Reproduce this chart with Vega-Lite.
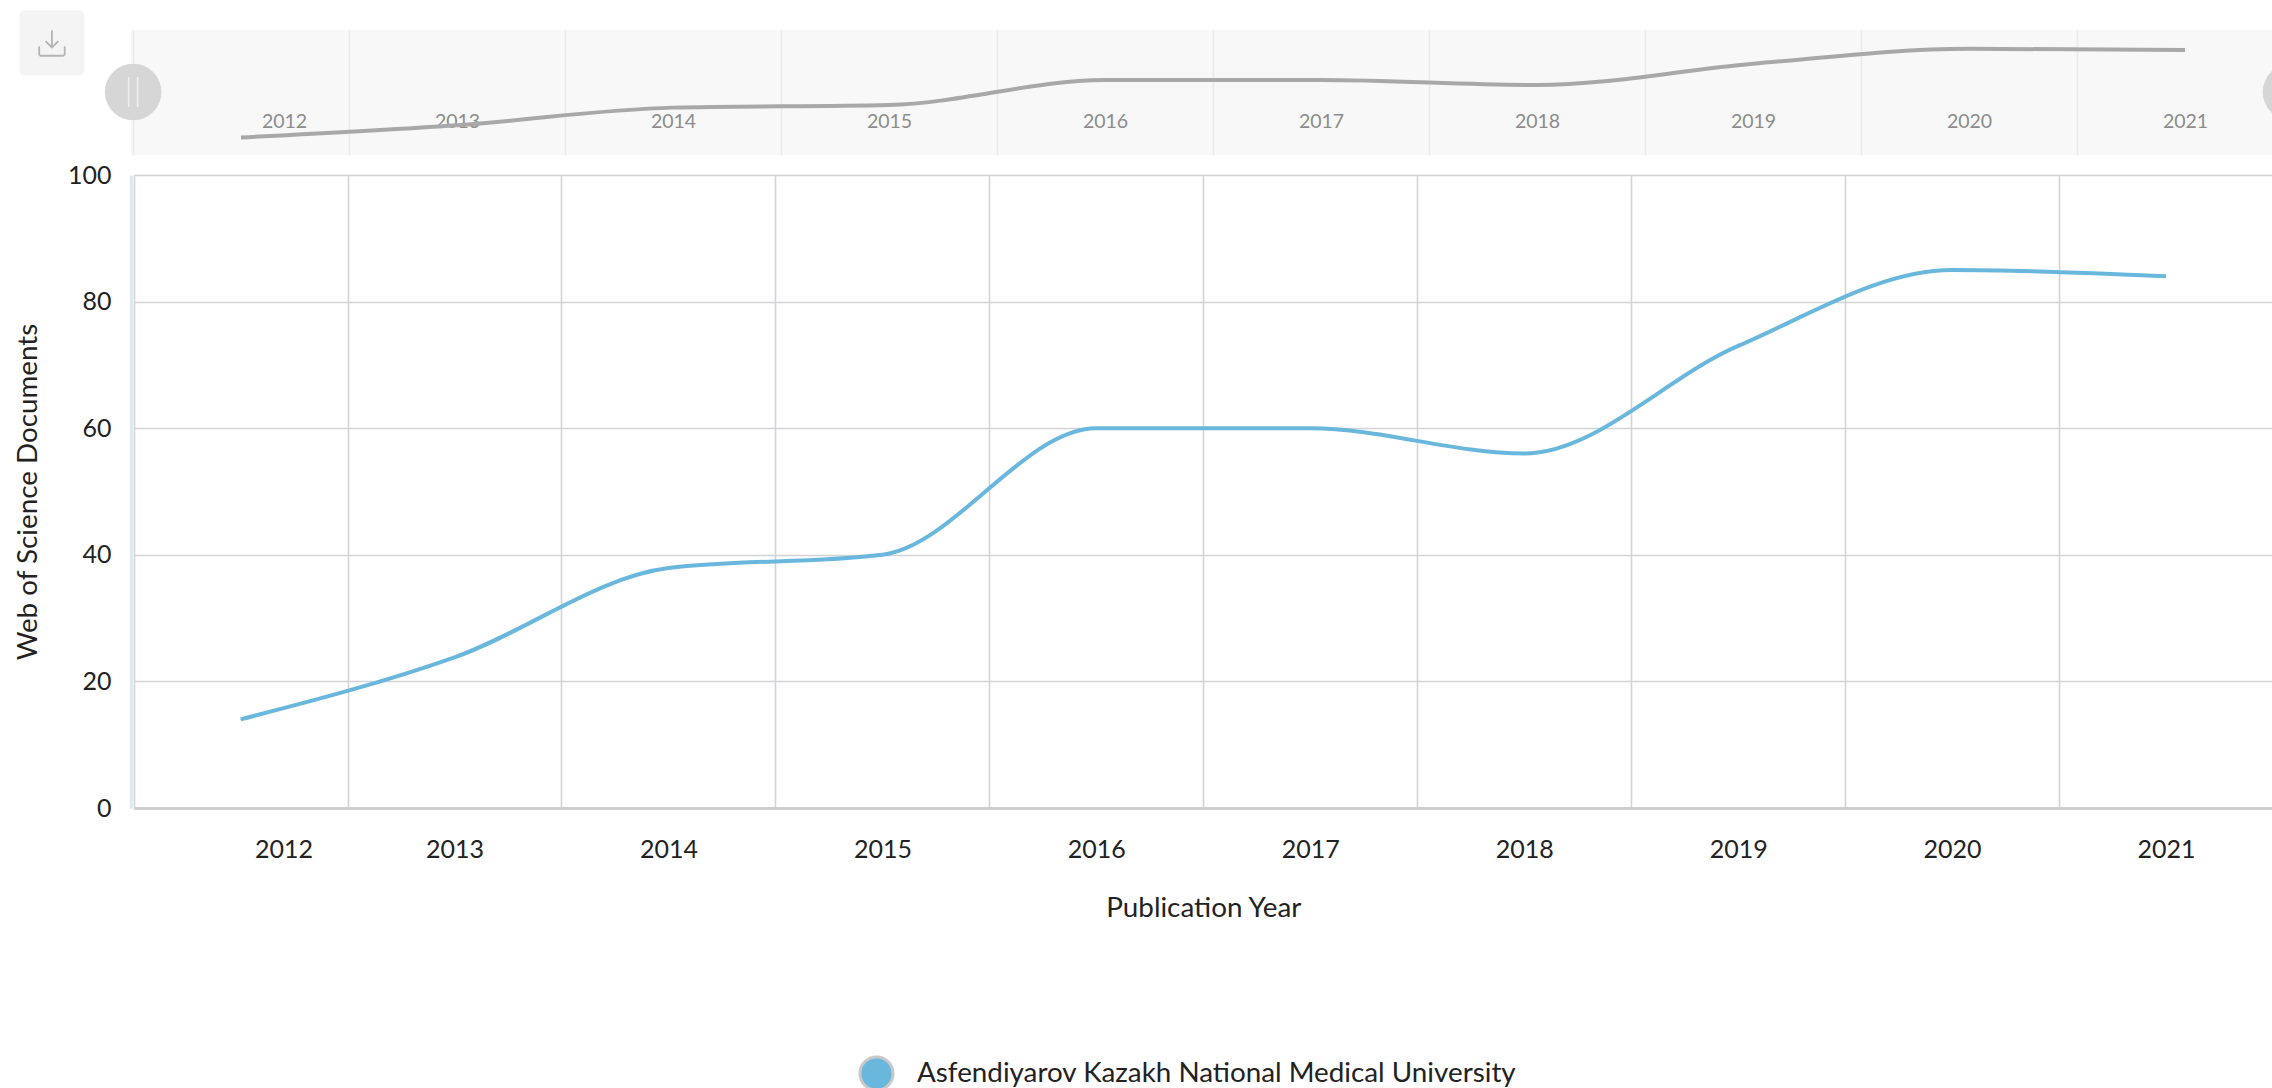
{
"$schema":"https://vega.github.io/schema/vega-lite/v6.json",
"background":"white",
"padding":{"left":14,"top":10,"right":0,"bottom":0},
"bounds":"flush",
"spacing":20,
"config":{"font":"Lato","view":{"stroke":null}},
"datasets":{
"docs":[
{"year":"2012","documents":14,"institution":"Asfendiyarov Kazakh National Medical University"},
{"year":"2013","documents":23.8,"institution":"Asfendiyarov Kazakh National Medical University"},
{"year":"2014","documents":37.9,"institution":"Asfendiyarov Kazakh National Medical University"},
{"year":"2015","documents":40,"institution":"Asfendiyarov Kazakh National Medical University"},
{"year":"2016","documents":60,"institution":"Asfendiyarov Kazakh National Medical University"},
{"year":"2017","documents":60,"institution":"Asfendiyarov Kazakh National Medical University"},
{"year":"2018","documents":56,"institution":"Asfendiyarov Kazakh National Medical University"},
{"year":"2019","documents":73,"institution":"Asfendiyarov Kazakh National Medical University"},
{"year":"2020","documents":85,"institution":"Asfendiyarov Kazakh National Medical University"},
{"year":"2021","documents":84,"institution":"Asfendiyarov Kazakh National Medical University"}
],
"handles":[{"pos":0.001,"level":50.4},{"pos":1,"level":50.4}],
"button":[{"pos":-0.0366,"level":89.6}]
},
"vconcat":[
{
"width":2160,"height":125,
"view":{"fill":"#f8f8f8","stroke":null},
"layer":[
{
"data":{"name":"docs"},
"mark":{"type":"line","interpolate":"monotone","color":"#a8a8a8","strokeWidth":4},
"encoding":{
"x":{"field":"year","type":"ordinal","scale":{"type":"band","paddingInner":0,"paddingOuter":0,"range":[2,2162]},
"axis":{"title":null,"orient":"bottom","tickBand":"extent","domain":false,"ticks":false,"grid":true,"gridColor":"#ebebeb","gridWidth":1.5,"labelAngle":0,"labelFontSize":19.5,"labelColor":"#8c8c8c","labelBaseline":"middle","labelPadding":-34,"labelOffset":{"condition":{"test":"datum.value == '2012'","value":43},"value":0}}},
"y":{"field":"documents","type":"quantitative","scale":{"domain":[0,100]},"axis":null}
}
},
{
"data":{"name":"handles"},
"mark":{"type":"point","shape":"circle","filled":true,"color":"#d6d6d6","size":3200,"opacity":1},
"encoding":{
"x":{"field":"pos","type":"quantitative","scale":{"domain":[0,1]},"axis":null},
"y":{"field":"level","type":"quantitative","scale":{"domain":[0,100]},"axis":null}
}
},
{
"data":{"name":"handles"},
"mark":{"type":"point","shape":"M-0.3,-1V1M0.3,-1V1","filled":false,"color":"#ececec","strokeWidth":1.6,"size":900,"opacity":1},
"encoding":{
"x":{"field":"pos","type":"quantitative","scale":{"domain":[0,1]},"axis":null},
"y":{"field":"level","type":"quantitative","scale":{"domain":[0,100]},"axis":null}
}
},
{
"data":{"name":"button"},
"mark":{"type":"point","shape":"M-0.85,-1H0.85Q1,-1 1,-0.85V0.85Q1,1 0.85,1H-0.85Q-1,1 -1,0.85V-0.85Q-1,-1 -0.85,-1Z","filled":true,"color":"#f4f4f4","size":4200,"opacity":1},
"encoding":{
"x":{"field":"pos","type":"quantitative","scale":{"domain":[0,1]},"axis":null},
"y":{"field":"level","type":"quantitative","scale":{"domain":[0,100]},"axis":null}
}
},
{
"data":{"name":"button"},
"mark":{"type":"point","shape":"M0,-1V0.35M-0.5,-0.15L0,0.35L0.5,-0.15M-1,0.25V0.85Q-1,1 -0.85,1H0.85Q1,1 1,0.85V0.25","filled":false,"color":"#b4b4b4","strokeWidth":1.8,"size":650,"opacity":1},
"encoding":{
"x":{"field":"pos","type":"quantitative","scale":{"domain":[0,1]},"axis":null},
"y":{"field":"level","type":"quantitative","scale":{"domain":[0,100]},"axis":null}
}
}
],
"resolve":{"scale":{"x":"independent"}}
},
{
"width":2140,"height":633,
"data":{"name":"docs"},
"encoding":{
"x":{"field":"year","type":"ordinal","scale":{"type":"band","paddingInner":0,"paddingOuter":0,"range":[2.6,2142]},
"axis":{"title":"Publication Year","tickBand":"extent","domain":true,"domainColor":"#cfcfcf","domainWidth":3,"ticks":false,"grid":true,"gridColor":"#d2d4d8","gridWidth":1.6,"labelAngle":0,"labelFontSize":25,"labelColor":"#222222","labelPadding":29,"titleFontSize":27.8,"titleFontWeight":"normal","titleColor":"#222222","titlePadding":32,"labelOffset":{"condition":{"test":"datum.value == '2012'","value":43},"value":0}}},
"y":{"field":"documents","type":"quantitative","scale":{"domain":[0,100]},
"axis":{"title":"Web of Science Documents","values":[0,20,40,60,80,100],"domain":true,"domainColor":"#dfe7f1","domainWidth":3,"ticks":false,"grid":true,"gridColor":"#d2d4d8","gridWidth":1.6,"labelFontSize":25,"labelColor":"#222222","labelPadding":20,"titleFontSize":27.8,"titleFontWeight":"normal","titleColor":"#222222","titlePadding":25}}
},
"layer":[
{
"mark":{"type":"line","interpolate":"monotone","strokeWidth":4,"color":"#6ab7dd"}
},
{
"mark":{"type":"point","size":0,"filled":false},
"encoding":{
"stroke":{"field":"institution","type":"nominal","scale":{"range":["#c9c9c9"]},
"legend":{"title":null,"orient":"none","legendX":727,"legendY":880,"symbolType":"circle","symbolSize":1100,"symbolStrokeWidth":3,"symbolFillColor":"#6ab7dd","symbolOpacity":1,"labelFontSize":27.8,"labelColor":"#222222","labelLimit":900,"labelOffset":22,"encoding":{"symbols":{"fill":{"value":"#6ab7dd"}}}}}
}
}
]
}
],
"resolve":{"legend":{"stroke":"independent"}}
}
